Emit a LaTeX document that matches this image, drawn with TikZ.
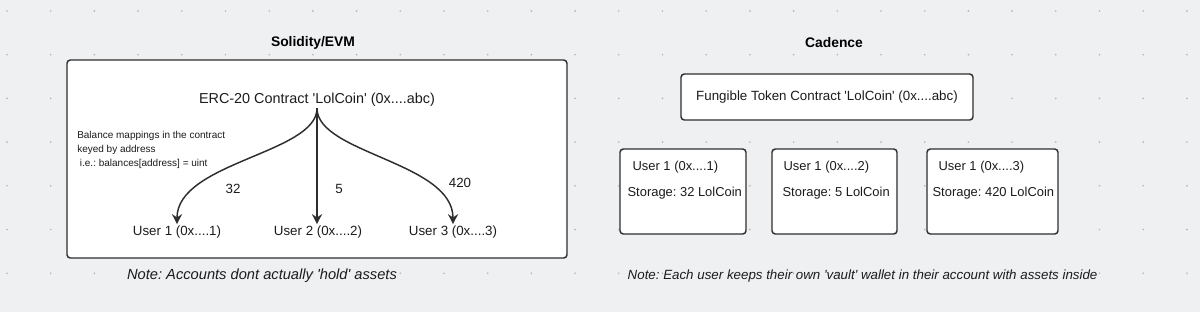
\documentclass[tikz,border=0pt]{standalone}
\usepackage{fontspec}
\setmainfont{Liberation Sans}
\usepackage{tikz}
\usetikzlibrary{
  arrows.meta,
  positioning,
}
\definecolor{canvasgray}{HTML}{EFF0F2}
\definecolor{dotgray}{HTML}{B3B6BA}
\definecolor{framegray}{HTML}{2E2E2E}
\definecolor{inkgray}{HTML}{1C1C1C}
\newcommand{\q}{\textquotesingle}
\frenchspacing

\begin{document}
\begin{tikzpicture}[
    x=0.75pt, y=-0.75pt,
    frame/.style={draw=framegray, line width=1.1pt, fill=white, rounded corners=2.5pt},
    lbl/.style={font=\fontsize{10}{12}\selectfont, text=inkgray, inner sep=1pt},
    vault/.style={font=\fontsize{9.7}{12}\selectfont, text=inkgray, inner sep=1pt, anchor=west},
    big/.style={font=\fontsize{10.8}{12}\selectfont, text=inkgray, inner sep=1pt},
    small/.style={font=\fontsize{7.5}{10.5}\selectfont, text=inkgray, align=left, inner sep=0pt},
    title/.style={font=\fontsize{10.4}{12}\selectfont\bfseries, text=black},
    note/.style={font=\fontsize{11}{13}\selectfont\itshape, text=inkgray},
    flow/.style={-{Stealth[length=7.5pt,width=7.5pt]}, line width=1.1pt, draw=framegray},
  ]
  % Canvas and dot grid
  \fill[canvasgray] (0,0) rectangle (1200,312);
  \useasboundingbox (0,0) rectangle (1200,312);
  \foreach \i in {0,...,27}
    \foreach \j in {0,...,6}
      \fill[dotgray] (7+43.7*\i, 11+43.7*\j) circle (0.7pt);

  % Solidity/EVM side
  \node[title] (evmtitle) at (313,43) {Solidity/EVM};
  \draw[frame] (67,60) rectangle (567,258);
  \node[big] (erc) at (317,100) {ERC-20 Contract \q LolCoin\q{} (0x....abc)};
  \node[small, anchor=west] (mapnote) at (77,150)
    {Balance mappings in the contract\\keyed by address\\\hspace{2pt}i.e.: balances[address] = uint};
  \node[lbl] (u1) at (177,232) {User 1 (0x....1)};
  \node[lbl] (u2) at (318,232) {User 2 (0x....2)};
  \node[lbl] (u3) at (453,232) {User 3 (0x....3)};

  % Balance arrows
  \draw[flow] (erc.south) .. controls +(0,45) and +(0,-62) .. (u1.north);
  \draw[flow] (erc.south) -- (erc.south |- u2.north);
  \draw[flow] (erc.south) .. controls +(0,45) and +(0,-62) .. (u3.north);
  \node[lbl] (amt1) at (233,189) {32};
  \node[lbl] (amt2) at (339,189) {5};
  \node[lbl] (amt3) at (460,183) {420};

  \node[note] (evmnote) at (262,276) {Note: Accounts dont actually \q hold\q{} assets};

  % Cadence side
  \node[title] (cadtitle) at (834,43) {Cadence};
  \draw[frame] (681,74) rectangle (973,120);
  \node[lbl] (ft) at (827,97) {Fungible Token Contract \q LolCoin\q{} (0x....abc)};

  % Vaults
  \draw[frame] (620,149) rectangle (746,234);
  \draw[frame] (772,149) rectangle (897,234);
  \draw[frame] (927,149) rectangle (1058,234);
  \node[vault] (v1) at (631,167) {User 1 (0x....1)};
  \node[vault] (s1) at (626,193) {Storage: 32 LolCoin};
  \node[vault] (v2) at (782,167) {User 1 (0x....2)};
  \node[vault] (s2) at (781,193) {Storage: 5 LolCoin};
  \node[vault] (v3) at (937,167) {User 1 (0x....3)};
  \node[vault] (s3) at (931,193) {Storage: 420 LolCoin};

  \node[note, font=\fontsize{10}{12}\selectfont\itshape, anchor=west] (cadnote) at (623,276)
    {Note: Each user keeps their own \q vault\q{} wallet in their account with assets inside};
\end{tikzpicture}
\end{document}
